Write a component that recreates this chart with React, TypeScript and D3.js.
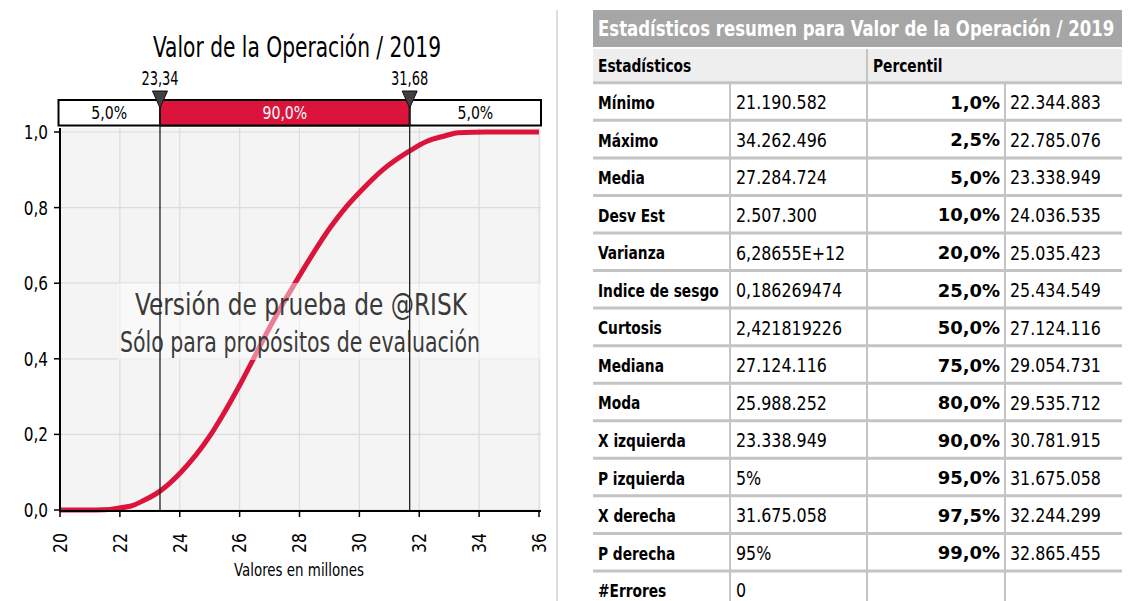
import React from "react";
import * as d3 from "d3";

// ---- Chart data (values in millions) ----
const chartTitle = "Valor de la Operación / 2019";
const cdfX = [20, 21.19, 22.34, 22.79, 23.34, 24.04, 25.04, 25.43, 26, 27.12, 28, 29.05, 29.54, 30, 30.78, 31.68, 32.24, 32.87, 33.3, 34.26, 36];
const cdfP = [0, 0, 0.01, 0.025, 0.05, 0.1, 0.2, 0.25, 0.33, 0.5, 0.62, 0.75, 0.8, 0.84, 0.9, 0.95, 0.975, 0.99, 0.998, 1, 1];
const xTicks = [20, 22, 24, 26, 28, 30, 32, 34, 36];
const yTicks = [0, 0.2, 0.4, 0.6, 0.8, 1.0];
const leftMarker = 23.34;
const rightMarker = 31.68;
const bandLabels = ["5,0%", "90,0%", "5,0%"];
const xAxisTitle = "Valores en millones";
const watermark = ["Versión de prueba de @RISK", "Sólo para propósitos de evaluación"];

// ---- Table data ----
const tableTitle = "Estadísticos resumen para Valor de la Operación / 2019";
const headerLeft = "Estadísticos";
const headerRight = "Percentil";
const statLabels = ["Mínimo", "Máximo", "Media", "Desv Est", "Varianza", "Indice de sesgo", "Curtosis", "Mediana", "Moda", "X izquierda", "P izquierda", "X derecha", "P derecha", "#Errores"];
const statValues = ["21.190.582", "34.262.496", "27.284.724", "2.507.300", "6,28655E+12", "0,186269474", "2,421819226", "27.124.116", "25.988.252", "23.338.949", "5%", "31.675.058", "95%", "0"];
const pctLabels = ["1,0%", "2,5%", "5,0%", "10,0%", "20,0%", "25,0%", "50,0%", "75,0%", "80,0%", "90,0%", "95,0%", "97,5%", "99,0%"];
const pctValues = ["22.344.883", "22.785.076", "23.338.949", "24.036.535", "25.035.423", "25.434.549", "27.124.116", "29.054.731", "29.535.712", "30.781.915", "31.675.058", "32.244.299", "32.865.455"];

const FONT = "'DejaVu Sans Condensed', 'DejaVu Sans', sans-serif";
const RED = "#dc143c";
const fmtComma = (v: number, d: number) => v.toFixed(d).replace(".", ",");

type TP = {
  x: number; y: number; sx?: number; rot?: number; size: number; anchor?: "start" | "middle" | "end";
  bold?: boolean; fill?: string; central?: boolean; len?: number; children: React.ReactNode;
};
function T({ x, y, sx = 1, rot = 0, size, anchor = "start", bold, fill = "#000", central, len, children }: TP) {
  return (
    <text
      transform={`translate(${x},${y}) rotate(${rot}) scale(${sx},1)`}
      textAnchor={anchor}
      dominantBaseline={central ? "central" : undefined}
      fontSize={size}
      fontWeight={bold ? "bold" : "normal"}
      fill={fill}
      textLength={len}
      lengthAdjust={len ? "spacingAndGlyphs" : undefined}
    >
      {children}
    </text>
  );
}

export default function App() {
  const W = 1129, H = 601;
  const x = d3.scaleLinear().domain([20, 36]).range([60, 539]);
  const y = d3.scaleLinear().domain([0, 1]).range([510, 132]);
  const pts = cdfX.map((v, i) => [v, cdfP[i]] as [number, number]);
  const line = d3.line<[number, number]>().x(d => x(d[0])).y(d => y(d[1])).curve(d3.curveMonotoneX);

  const plotL = 60, plotR = 541, plotT = 128, plotB = 510;
  const bandT = 100, bandB = 125.5, bandL = 58.5, bandR = 541;
  const xl = x(leftMarker), xr = x(rightMarker);

  const tL = 593, tR = 1122, c1 = 730, c2 = 867, c3 = 1005;
  const rowTop = 82.8, rowH = 37.55;
  const rc = (i: number) => rowTop + i * rowH + rowH / 2 + 1;

  return (
    <svg width={W} height={H} style={{ position: "absolute", left: 0, top: 0, fontFamily: FONT }}>
      <rect x={0} y={0} width={W} height={H} fill="#ffffff" />
      <T x={297} y={57} size={28} anchor="middle" len={288}>{chartTitle}</T>

      {/* Plot background & grid */}
      <rect x={plotL} y={plotT} width={plotR - plotL} height={plotB - plotT} fill="#f4f4f4" />
      {xTicks.map(t => (
        <line key={"gx" + t} x1={x(t)} x2={x(t)} y1={plotT} y2={plotB} stroke="#dcdcdc" strokeWidth={1.2} />
      ))}
      {yTicks.map(t => (
        <line key={"gy" + t} x1={plotL} x2={plotR} y1={y(t)} y2={y(t)} stroke="#dcdcdc" strokeWidth={1.2} />
      ))}

      {/* CDF curve */}
      <path d={line(pts) || ""} fill="none" stroke={RED} strokeWidth={5} strokeLinejoin="round" />

      {/* Watermark */}
      <rect x={118} y={283} width={plotR - 118} height={77} fill="#ffffff" opacity={0.45} />
      <T x={301} y={315} size={31} anchor="middle" fill="#3a3a3a" len={332}>{watermark[0]}</T>
      <T x={300} y={352} size={29} anchor="middle" fill="#3a3a3a" len={360}>{watermark[1]}</T>

      {/* Axes */}
      <line x1={plotL} x2={plotL} y1={plotT} y2={plotB + 1} stroke="#000" strokeWidth={2} />
      <line x1={plotL - 1} x2={plotR} y1={plotB + 1} y2={plotB + 1} stroke="#000" strokeWidth={2} />
      {xTicks.map(t => (
        <g key={"xt" + t}>
          <line x1={x(t)} x2={x(t)} y1={plotB + 1} y2={plotB + 7} stroke="#000" strokeWidth={1.5} />
          <T x={x(t)} y={533} rot={-90} sx={0.92} size={19} anchor="end" central>{t}</T>
        </g>
      ))}
      {yTicks.map(t => (
        <g key={"yt" + t}>
          <line x1={plotL - 6} x2={plotL} y1={y(t)} y2={y(t)} stroke="#000" strokeWidth={1.5} />
          <T x={48} y={y(t)} sx={0.85} size={20} anchor="end" central>{fmtComma(t, 1)}</T>
        </g>
      ))}
      <T x={299} y={576} size={17} anchor="middle" len={130}>{xAxisTitle}</T>

      {/* Top band */}
      <rect x={bandL} y={bandT} width={bandR - bandL} height={bandB - bandT} fill="#ffffff" stroke="#000" strokeWidth={2} />
      <rect x={xl} y={bandT} width={xr - xl} height={bandB - bandT} fill={RED} stroke="#000" strokeWidth={2} />
      <T x={(bandL + xl) / 2} y={113} size={18} sx={0.87} anchor="middle" central>{bandLabels[0]}</T>
      <T x={(xl + xr) / 2} y={113} size={18} sx={0.87} anchor="middle" central fill="#fff">{bandLabels[1]}</T>
      <T x={(xr + bandR) / 2} y={113} size={18} sx={0.87} anchor="middle" central>{bandLabels[2]}</T>

      {/* Markers */}
      {[leftMarker, rightMarker].map(m => (
        <g key={"m" + m}>
          <line x1={x(m)} x2={x(m)} y1={bandT} y2={plotB} stroke="#222" strokeWidth={1.3} />
          <path d={`M${x(m) - 7.5},91 L${x(m) + 7.5},91 L${x(m)},108 Z`} fill="#404040" stroke="#111" strokeWidth={1} />
          <T x={x(m)} y={85} size={19} sx={0.76} anchor="middle">{fmtComma(m, 2)}</T>
        </g>
      ))}

      {/* Separator */}
      <line x1={557} x2={557} y1={10} y2={H} stroke="#dedede" strokeWidth={2} />

      {/* Table */}
      <rect x={tL} y={10} width={tR - tL} height={37} fill="#a6a6a6" />
      <T x={598} y={29} size={21} sx={0.875} bold fill="#ffffff" central>{tableTitle}</T>
      <rect x={tL} y={49} width={tR - tL} height={rowTop - 49} fill="#eeeeee" />
      <T x={598} y={66} size={18} sx={0.85} bold central>{headerLeft}</T>
      <T x={873} y={66} size={18} sx={0.85} bold central>{headerRight}</T>

      {d3.range(statLabels.length + 1).map(i => (
        <line key={"hl" + i} x1={tL} x2={tR} y1={rowTop + i * rowH} y2={rowTop + i * rowH} stroke="#c4c4c4" strokeWidth={3} />
      ))}
      <line x1={c1} x2={c1} y1={rowTop} y2={H} stroke="#c4c4c4" strokeWidth={2} />
      <line x1={c2} x2={c2} y1={49} y2={H} stroke="#c4c4c4" strokeWidth={2} />
      <line x1={c3} x2={c3} y1={rowTop} y2={H} stroke="#c4c4c4" strokeWidth={2} />

      {statLabels.map((s, i) => (
        <g key={"r" + i}>
          <T x={598} y={rc(i)} size={18} sx={0.85} bold central>{s}</T>
          <T x={736} y={rc(i)} size={19} sx={0.93} central>{statValues[i]}</T>
          {i < pctLabels.length && (
            <>
              <T x={1000} y={rc(i)} size={18.5} sx={1.08} bold anchor="end" central>{pctLabels[i]}</T>
              <T x={1010} y={rc(i)} size={19} sx={0.93} central>{pctValues[i]}</T>
            </>
          )}
        </g>
      ))}
    </svg>
  );
}
